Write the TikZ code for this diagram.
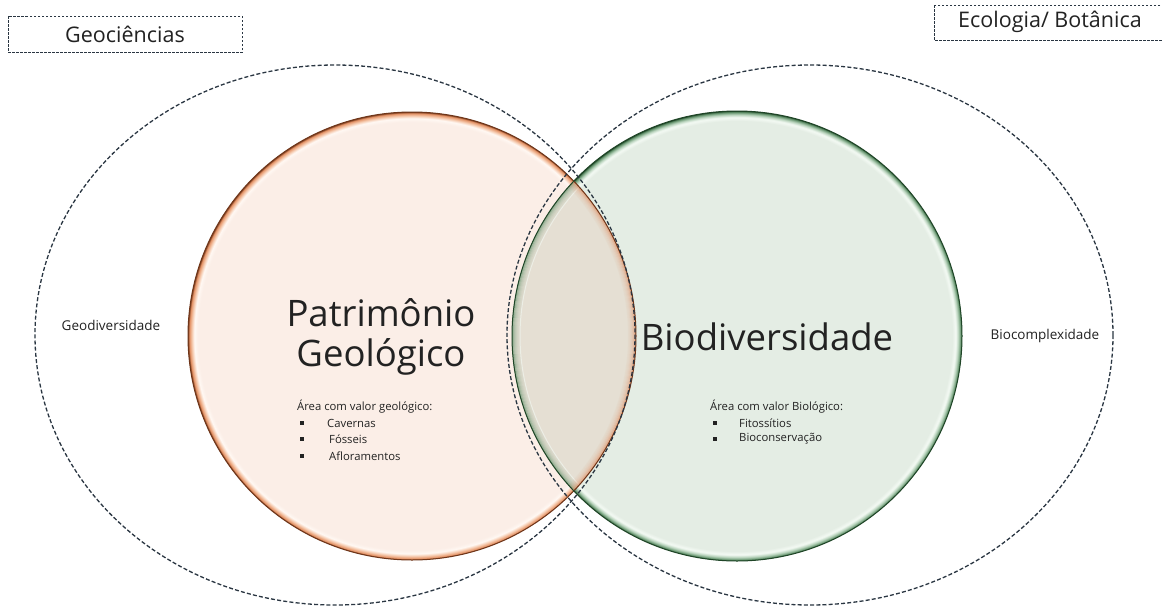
\documentclass[tikz,border=0pt]{standalone}
\usepackage{fontspec}
\setmainfont{Open Sans}
\definecolor{txt}{HTML}{222222}
\definecolor{dashc}{HTML}{2A3642}
\definecolor{oA}{HTML}{FBEEE7}
\definecolor{oH}{HTML}{FFF8F3}
\definecolor{oB}{HTML}{F4C4A6}
\definecolor{oC}{HTML}{E08A5C}
\definecolor{oD}{HTML}{6E3519}
\definecolor{gA}{HTML}{E4EDE4}
\definecolor{gH}{HTML}{F4FAF4}
\definecolor{gB}{HTML}{B7D2BB}
\definecolor{gC}{HTML}{5E8F67}
\definecolor{gD}{HTML}{1F4527}
\definecolor{mA}{HTML}{E5DFD3}
\pgfdeclareradialshading{orangeglow}{\pgfpoint{0bp}{0bp}}{color(0bp)=(oA); color(23.9bp)=(oA); color(24.3bp)=(oH); color(24.6bp)=(oB); color(24.88bp)=(oC); color(25bp)=(oD); color(50bp)=(oD)}
\pgfdeclareradialshading{greenglow}{\pgfpoint{0bp}{0bp}}{color(0bp)=(gA); color(23.9bp)=(gA); color(24.3bp)=(gH); color(24.6bp)=(gB); color(24.88bp)=(gC); color(25bp)=(gD); color(50bp)=(gD)}
\tikzset{
  dashell/.style={draw=dashc, line width=1.3pt, dash pattern=on 4pt off 2.2pt},
  catbox/.style={draw=dashc, line width=0.7pt, dash pattern=on 2.5pt off 1.5pt},
  side/.style={text=txt, font=\fontsize{13.5}{16}\selectfont, inner sep=0pt},
  small/.style={text=txt, font=\fontsize{11.3}{13}\selectfont, inner sep=0pt},
  big/.style={text=txt, font=\fontsize{36.5}{44}\selectfont, inner sep=0pt},
  toplab/.style={text=txt, font=\fontsize{21.5}{25}\selectfont, inner sep=0pt},
}
\begin{document}
\begin{tikzpicture}[x=1pt,y=-1pt]
\useasboundingbox (0,0) rectangle (1162,606);
\fill[white] (0,0) rectangle (1162,606);
% circles
\shade[shading=orangeglow] (412,336) circle (224);
\shade[shading=greenglow] (737,336) circle (225);
% overlap
\begin{scope}
  \clip (412,336) circle (224);
  \fill[mA] (737,336) circle (225);
  \foreach \i/\o in {0/0.7,1/0.5,2/0.35,3/0.25,4/0.18,5/0.12,6/0.08,7/0.05}
    \draw[gC, line width=1pt, opacity=\o] (737,336) circle (224.5-\i);
  \draw[gH, line width=1pt, opacity=0.6] (737,336) circle (217);
\end{scope}
\begin{scope}
  \clip (737,336) circle (225);
  \foreach \i/\o in {0/0.7,1/0.5,2/0.35,3/0.25,4/0.18,5/0.12,6/0.08,7/0.05}
    \draw[oC, line width=1pt, opacity=\o] (412,336) circle (223.5-\i);
\end{scope}
\draw[oD, line width=1pt] (412,336) circle (224);
\draw[gD, line width=1pt] (737,336) circle (225);
% dashed ellipses
\draw[dashell] (335,335) ellipse [x radius=300, y radius=270];
\draw[dashell] (810,335) ellipse [x radius=303, y radius=270];
% top boxes
\draw[catbox] (8,16) rectangle (242,52);
\node[toplab] (geo) at (125,34) {Geociências};
\draw[catbox] (934,5) rectangle (1170,40);
\node[toplab] (eco) at (1050,22) {Ecologia/ Botânica};
% side labels
\node[side] (gdiv) at (111,325) {Geodiversidade};
\node[side] (bcx) at (1045,336) {Biocomplexidade};
% big titles
\node[big] (pat) at (381,313) {Patrimônio};
\node[big] (geol) at (381,357) {Geológico};
\node[big] (bio) at (767,337) {Biodiversidade};
% lists
\node[small, anchor=west] (ag) at (297,407) {Área com valor geológico:};
\node[small] (b1) at (302,423) {\rule{3.5pt}{3.5pt}};
\node[small, anchor=west] (c1) at (327,423) {Cavernas};
\node[small] (b2) at (302,439) {\rule{3.5pt}{3.5pt}};
\node[small, anchor=west] (c2) at (329,439) {Fósseis};
\node[small] (b3) at (302,456) {\rule{3.5pt}{3.5pt}};
\node[small, anchor=west] (c3) at (329,456) {Afloramentos};
\node[small, anchor=west] (ab) at (710,407) {Área com valor Biológico:};
\node[small] (d1) at (715,423) {\rule{3.5pt}{3.5pt}};
\node[small, anchor=west] (e1) at (739,423) {Fitossítios};
\node[small] (d2) at (715,439) {\rule{3.5pt}{3.5pt}};
\node[small, anchor=west] (e2) at (739,439) {Bioconservação};
\end{tikzpicture}
\end{document}
